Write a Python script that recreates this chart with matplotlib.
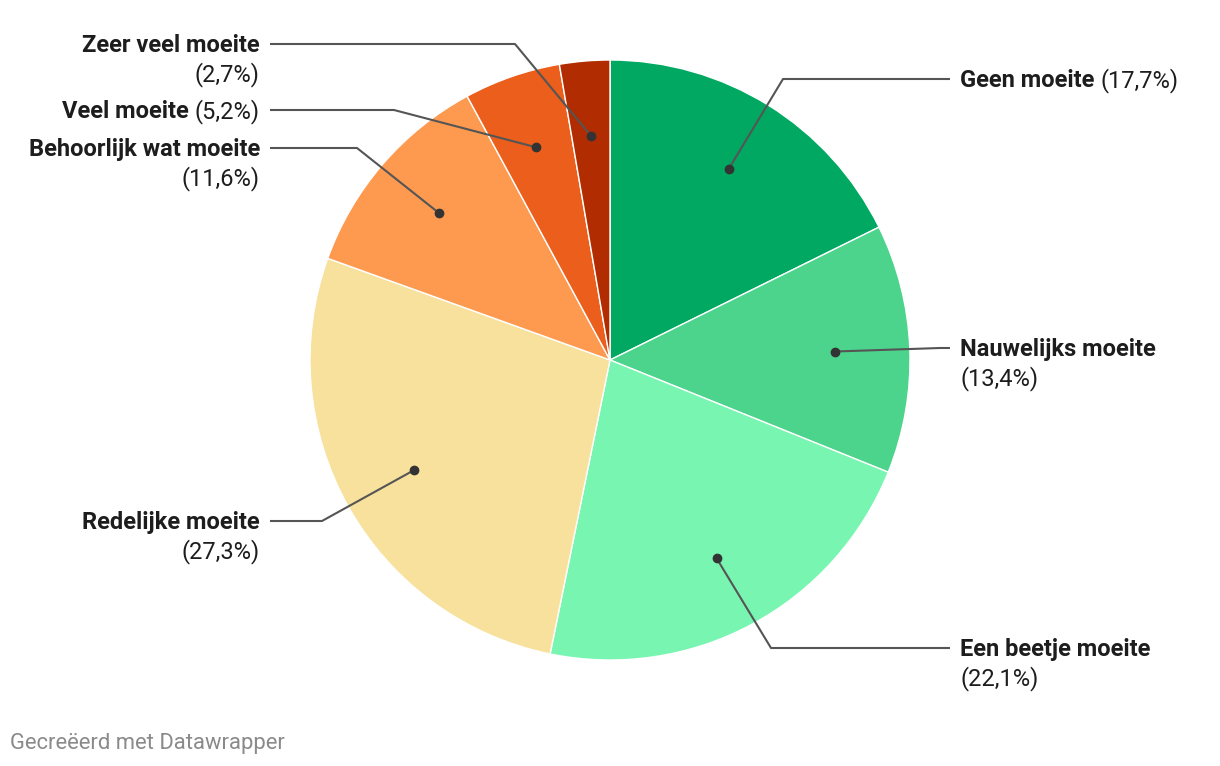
import numpy as np
import matplotlib.pyplot as plt

labels = ['Geen moeite', 'Nauwelijks moeite', 'Een beetje moeite', 'Redelijke moeite',
          'Behoorlijk wat moeite', 'Veel moeite', 'Zeer veel moeite']
values = [17.7, 13.4, 22.1, 27.3, 11.6, 5.2, 2.7]
colors = ['#00a862', '#4cd48c', '#78f5b0', '#f8e19c', '#fd9a50', '#eb5e1c', '#b12c00']

# label layout (pixels from top-left): text y, elbow x, one line?
label_y = [79, 348, 648, 521, 148, 110, 44]
elbow_x = [783, 940, 771, 322, 357, 394, 515]
one_line = [True, False, False, False, False, True, False]

W, H = 1220, 766
cx, cy, R = 610, 360, 300

plt.rcParams['font.family'] = ['Roboto', 'DejaVu Sans']
fig = plt.figure(figsize=(W / 100, H / 100), dpi=100)
ax = fig.add_axes([0, 0, 1, 1])

def py(y):
    return H - y

ax.pie(values, colors=colors, startangle=90, counterclock=False,
       center=(cx, py(cy)), radius=R,
       wedgeprops=dict(edgecolor='white', linewidth=1))
ax.set_xlim(0, W)
ax.set_ylim(0, H)
ax.set_aspect('equal')
ax.axis('off')

fig.canvas.draw()
rend = fig.canvas.get_renderer()

def width_of(t):
    return t.get_window_extent(rend).width

fs = 17
start = 90.0
for lab, v, ly, ex, single in zip(labels, values, label_y, elbow_x, one_line):
    mid = np.deg2rad(start - v * 3.6 / 2)
    start -= v * 3.6
    dx = cx + 0.75 * R * np.cos(mid)
    dy = cy - 0.75 * R * np.sin(mid)
    right = dx > cx
    tx = 960 if right else 260
    line_end = 950 if right else 270
    ax.plot([dx, ex, line_end], [py(dy), py(ly), py(ly)], color='#555555', lw=1.5,
            solid_capstyle='butt', zorder=3)
    ax.plot([dx], [py(dy)], 'o', color='#333333', ms=6, zorder=4)
    pct = '(%s%%)' % ('%.1f' % v).replace('.', ',')
    ty = ly + 1.5
    if single:
        if right:
            t1 = ax.text(tx, py(ty), lab + ' ', fontsize=fs, fontweight='bold', color='#1d1d1d',
                         ha='left', va='center')
            ax.text(tx + width_of(t1), py(ty), pct, fontsize=fs, color='#1d1d1d',
                    ha='left', va='center')
        else:
            t2 = ax.text(tx, py(ty), pct, fontsize=fs, color='#1d1d1d', ha='right', va='center')
            ax.text(tx - width_of(t2), py(ty), lab + ' ', fontsize=fs, fontweight='bold',
                    color='#1d1d1d', ha='right', va='center')
    else:
        ha = 'left' if right else 'right'
        ax.text(tx, py(ty), lab, fontsize=fs, fontweight='bold', color='#1d1d1d',
                ha=ha, va='center')
        ax.text(tx, py(ty + 29), pct, fontsize=fs, color='#1d1d1d', ha=ha, va='center')

ax.text(10, py(744), 'Gecreëerd met Datawrapper', fontsize=15.8, color='#8a8a8a',
        ha='left', va='center')

fig.savefig('out.png', dpi=100)
